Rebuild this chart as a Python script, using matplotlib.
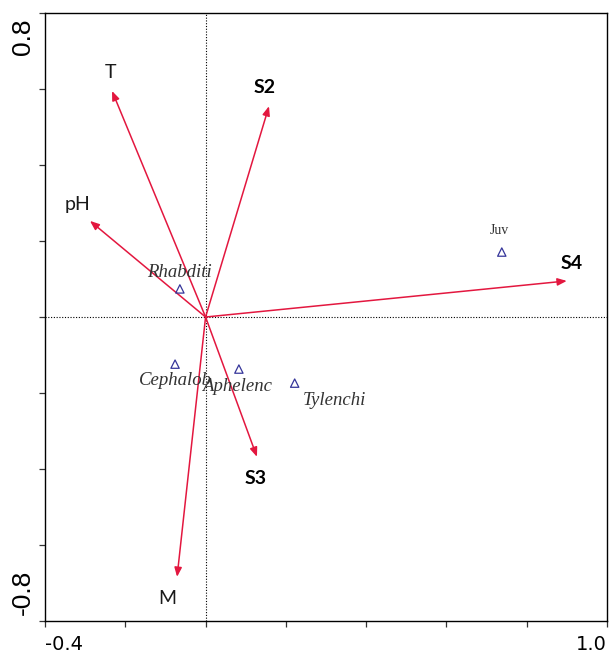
import numpy as np
import matplotlib.pyplot as plt
import matplotlib.transforms as mtransforms

# environmental / sample vectors (arrow tips in ordination space)
vec_names = ['T', 'S2', 'pH', 'S4', 'S3', 'M']
vec_x = [-0.233, 0.158, -0.288, 0.900, 0.128, -0.071]
vec_y = [0.595, 0.555, 0.253, 0.095, -0.368, -0.684]
vec_bold = [False, True, False, True, True, False]

# nematode groups (species scores)
taxa = ['Rhabditi', 'Cephalob', 'Aphelenc', 'Tylenchi', 'Juv']
taxa_x = [-0.064, -0.076, 0.083, 0.222, 0.738]
taxa_y = [0.074, -0.124, -0.137, -0.174, 0.171]

red = '#e3173f'
blue = '#35359a'

fig = plt.figure(figsize=(6.1, 6.55), dpi=100)
ax = fig.add_axes([0.0738, 0.052, 0.9212, 0.928])
ax.set_xlim(-0.4, 1.0)
ax.set_ylim(-0.8, 0.8)

ax.axhline(0, color='black', lw=0.8, ls=(0, (1, 1.5)), zorder=1)
ax.axvline(0, color='black', lw=0.8, ls=(0, (1, 1.5)), zorder=1)

for name, x, y, bold in zip(vec_names, vec_x, vec_y, vec_bold):
    ax.annotate('', xy=(x, y), xytext=(0, 0),
                arrowprops=dict(arrowstyle='-|>,head_length=0.55,head_width=0.22',
                                color=red, lw=1.1, shrinkA=0, shrinkB=0),
                zorder=3)

# vector labels
lab_off = {'T': (-0.005, 0.048), 'S2': (-0.012, 0.048), 'pH': (-0.032, 0.044),
           'S4': (0.013, 0.047), 'S3': (-0.003, -0.056), 'M': (-0.025, -0.058)}
for name, x, y, bold in zip(vec_names, vec_x, vec_y, vec_bold):
    dx, dy = lab_off[name]
    if bold:
        ax.text(x + dx, y + dy, name, family='Lato', fontweight='bold',
                fontsize=14, ha='center', va='center', color='black')
    else:
        ax.text(x + dx, y + dy, name, family='Lato', fontsize=14,
                ha='center', va='center', color='#1a1a1a')

ax.scatter(taxa_x, taxa_y, marker='^', s=36, facecolors='none',
           edgecolors=blue, linewidths=0.9, zorder=4)

taxa_off = {'Rhabditi': (0.0, 0.044), 'Cephalob': (0.0, -0.043),
            'Aphelenc': (-0.004, -0.046), 'Tylenchi': (0.1, -0.045),
            'Juv': (-0.007, 0.058)}
for name, x, y in zip(taxa, taxa_x, taxa_y):
    dx, dy = taxa_off[name]
    if name == 'Juv':
        ax.text(x + dx, y + dy, name, family='Liberation Serif', fontsize=10,
                ha='center', va='center', color='#333333')
    else:
        ax.text(x + dx, y + dy, name, family='Liberation Serif', style='italic',
                fontsize=13.5, ha='center', va='center', color='#333333')

# ticks every 0.2, labels only at the ends
xt = np.round(np.arange(-0.4, 1.01, 0.2), 1)
yt = np.round(np.arange(-0.8, 0.81, 0.2), 1)
ax.set_xticks(xt)
ax.set_xticklabels(['-0.4'] + [''] * (len(xt) - 2) + ['1.0'],
                   family=['DejaVu Sans'], fontsize=14)
ax.set_yticks(yt)
ax.set_yticklabels(['-0.8'] + [''] * (len(yt) - 2) + ['0.8'],
                   family=['Liberation Sans Narrow', 'Liberation Sans'],
                   fontsize=19, rotation=90)
ax.tick_params(direction='out', length=4, width=0.9, color='#333333')
ax.tick_params(axis='x', pad=6)
ax.tick_params(axis='y', pad=3)

xl = ax.get_xticklabels()
xl[0].set_ha('left')
xl[-1].set_ha('right')
yl = ax.get_yticklabels()
yl[0].set_va('bottom')
yl[-1].set_va('top')
# pull the end labels slightly inside the axis range
yl[0].set_transform(yl[0].get_transform() +
                    mtransforms.ScaledTranslation(0, 4 / 72, fig.dpi_scale_trans))
yl[-1].set_transform(yl[-1].get_transform() +
                     mtransforms.ScaledTranslation(0, -4 / 72, fig.dpi_scale_trans))

for sp in ax.spines.values():
    sp.set_linewidth(1.0)

fig.savefig('out.png', dpi=100)
